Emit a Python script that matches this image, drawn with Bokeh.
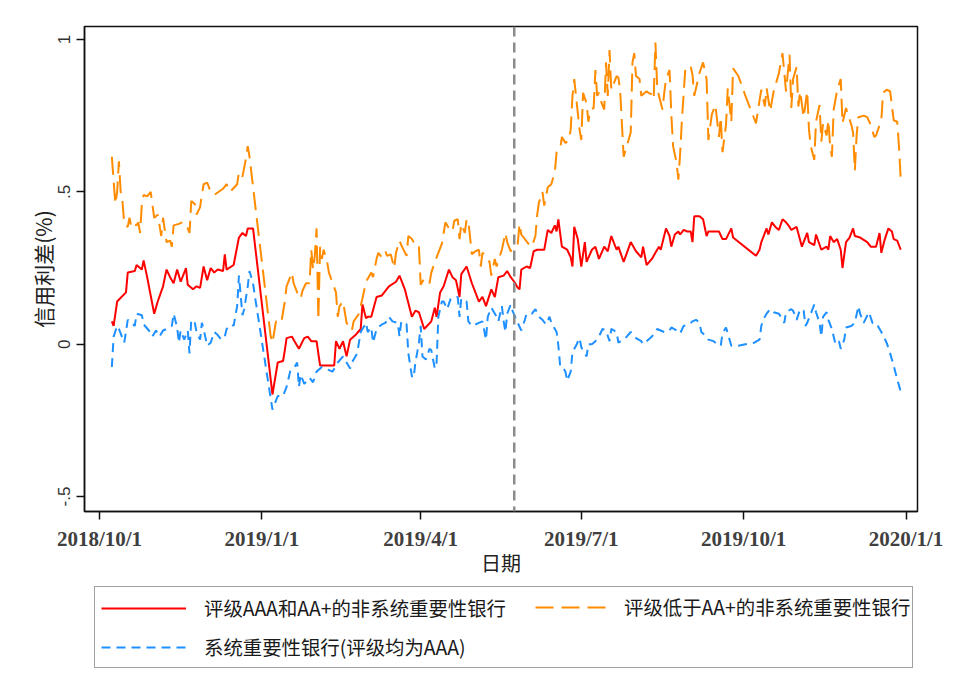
import pandas as pd
from bokeh.plotting import figure
from bokeh.layouts import column
from bokeh.models import Range1d, FixedTicker, Legend, LegendItem, Span
from bokeh.embed import file_html
from bokeh.resources import INLINE

# days counted from 2018-10-01
base_date = "2018-10-01"

red_days = [7, 8, 10, 15, 16, 20, 21, 24, 25, 27, 29, 31, 33, 36, 38, 40, 42, 44, 46, 49,
            50, 53, 55, 57, 59, 61, 63, 65, 67, 70, 71, 72, 76, 79, 81, 83, 84, 87, 98, 101,
            104, 105, 106, 109, 110, 113, 116, 118, 120, 123, 125, 133, 134, 136, 138, 140, 142, 145, 148, 149,
            151, 152, 154, 157, 160, 162, 164, 168, 170, 173, 177, 179, 181, 184, 188, 190, 191, 193, 195, 198,
            200, 202, 204, 205, 208, 211, 215, 217, 219, 222, 224, 226, 229, 231, 233, 235, 237, 238, 239, 242,
            244, 246, 248, 252, 254, 256, 258, 259, 260, 262, 265, 267, 268, 269, 271, 273, 275, 276, 279, 281,
            283, 286, 288, 290, 293, 294, 297, 301, 304, 307, 308, 310, 313, 315, 317, 318, 321, 323, 324, 326,
            328, 329, 331, 333, 335, 336, 337, 340, 342, 344, 345, 349, 351, 353, 355, 358, 359, 372, 374, 375,
            378, 379, 381, 383, 385, 387, 389, 391, 392, 395, 398, 401, 402, 405, 406, 409, 412, 413, 414, 416,
            418, 420, 421, 423, 425, 427, 428, 431, 435, 437, 440, 442, 443, 445, 447, 449, 450, 452, 454]
red_vals = [0.075, 0.06, 0.14, 0.17, 0.235, 0.24, 0.26, 0.245, 0.275, 0.22, 0.16, 0.10, 0.14, 0.19, 0.245, 0.22, 0.20, 0.245, 0.205, 0.25,
            0.195, 0.18, 0.19, 0.185, 0.255, 0.21, 0.25, 0.235, 0.245, 0.24, 0.295, 0.245, 0.26, 0.35, 0.365, 0.355, 0.38, 0.38, -0.165, -0.06,
            -0.055, -0.02, 0.02, 0.025, 0.015, -0.015, 0.02, 0.025, 0.01, 0.01, -0.07, -0.07, 0.01, -0.015, 0.01, -0.04, 0.015, 0.03, 0.05, 0.13,
            0.085, 0.09, 0.09, 0.155, 0.16, 0.175, 0.19, 0.205, 0.225, 0.18, 0.09, 0.11, 0.105, 0.05, 0.075, 0.12, 0.09, 0.17, 0.19, 0.245,
            0.22, 0.21, 0.155, 0.23, 0.255, 0.20, 0.14, 0.155, 0.125, 0.18, 0.155, 0.22, 0.225, 0.24, 0.22, 0.205, 0.185, 0.18, 0.245, 0.255,
            0.25, 0.305, 0.31, 0.31, 0.375, 0.365, 0.39, 0.37, 0.41, 0.32, 0.31, 0.285, 0.255, 0.385, 0.345, 0.255, 0.335, 0.27, 0.31, 0.32,
            0.28, 0.32, 0.305, 0.355, 0.31, 0.32, 0.27, 0.335, 0.305, 0.285, 0.32, 0.26, 0.28, 0.30, 0.32, 0.31, 0.38, 0.355, 0.32, 0.36,
            0.37, 0.36, 0.375, 0.37, 0.37, 0.335, 0.42, 0.42, 0.41, 0.355, 0.37, 0.37, 0.37, 0.345, 0.345, 0.38, 0.35, 0.29, 0.31, 0.335,
            0.38, 0.36, 0.40, 0.385, 0.375, 0.41, 0.40, 0.385, 0.375, 0.385, 0.32, 0.365, 0.335, 0.325, 0.36, 0.31, 0.32, 0.31, 0.355, 0.335,
            0.345, 0.31, 0.25, 0.335, 0.35, 0.38, 0.355, 0.35, 0.335, 0.32, 0.32, 0.365, 0.30, 0.345, 0.38, 0.37, 0.345, 0.34, 0.31]

orange_days = [7, 8, 9, 10, 11, 12, 13, 14, 16, 17, 18, 19, 21, 22, 23, 24, 25, 27, 29, 31,
               33, 35, 36, 38, 40, 41, 42, 45, 47, 49, 51, 52, 54, 55, 57, 58, 59, 61, 63, 65,
               70, 72, 74, 78, 79, 81, 83, 84, 85, 97, 98, 99, 100, 103, 105, 106, 109, 110, 112, 114,
               115, 117, 119, 120, 121, 122, 123, 124, 125, 126, 127, 129, 130, 134, 135, 136, 138, 140, 143, 144,
               147, 149, 151, 152, 154, 155, 157, 158, 160, 162, 163, 165, 167, 168, 170, 171, 174, 175, 177, 178,
               179, 181, 182, 184, 187, 188, 190, 192, 194, 196, 198, 200, 201, 203, 204, 205, 207, 208, 209, 211,
               213, 215, 216, 217, 219, 221, 222, 224, 225, 228, 230, 231, 233, 235, 237, 238, 239, 243, 245, 247,
               248, 249, 251, 252, 254, 256, 258, 259, 261, 262, 264, 266, 267, 268, 269, 271, 272, 273, 274, 276,
               277, 278, 280, 281, 282, 283, 284, 286, 287, 288, 289, 290, 293, 294, 295, 296, 297, 299, 301, 302,
               303, 304, 306, 307, 310, 311, 313, 314, 315, 316, 317, 319, 320, 321, 323, 324, 325, 327, 328, 329,
               330, 332, 335, 336, 337, 338, 340, 342, 344, 345, 347, 349, 351, 352, 353, 355, 356, 358, 359, 362,
               366, 372, 374, 375, 377, 378, 380, 382, 385, 387, 389, 391, 392, 393, 395, 396, 397, 399, 401, 402,
               403, 405, 406, 408, 409, 410, 412, 413, 414, 415, 416, 418, 420, 421, 423, 426, 427, 428, 429, 430,
               433, 435, 437, 439, 440, 443, 444, 446, 448, 450, 452, 453, 454]
orange_vals = [0.615, 0.535, 0.46, 0.50, 0.60, 0.50, 0.47, 0.395, 0.385, 0.415, 0.385, 0.395, 0.39, 0.40, 0.365, 0.46, 0.49, 0.485, 0.50, 0.415,
               0.425, 0.355, 0.415, 0.335, 0.34, 0.32, 0.39, 0.395, 0.40, 0.395, 0.365, 0.47, 0.46, 0.425, 0.45, 0.49, 0.525, 0.53, 0.50, 0.49,
               0.51, 0.525, 0.50, 0.525, 0.565, 0.55, 0.61, 0.65, 0.615, 0.025, 0.005, 0.04, 0.075, 0.07, 0.14, 0.19, 0.235, 0.20, 0.17, 0.15,
               0.175, 0.20, 0.20, 0.31, 0.245, 0.29, 0.38, 0.08, 0.32, 0.28, 0.31, 0.27, 0.235, 0.17, 0.09, 0.125, 0.14, 0.07, 0.045, 0.075,
               0.10, 0.15, 0.205, 0.215, 0.235, 0.22, 0.28, 0.30, 0.285, 0.305, 0.29, 0.295, 0.25, 0.30, 0.34, 0.325, 0.29, 0.355, 0.345, 0.335,
               0.32, 0.32, 0.195, 0.215, 0.20, 0.235, 0.27, 0.30, 0.33, 0.40, 0.38, 0.37, 0.405, 0.41, 0.345, 0.395, 0.365, 0.41, 0.405, 0.295,
               0.305, 0.31, 0.255, 0.30, 0.29, 0.27, 0.225, 0.28, 0.255, 0.31, 0.365, 0.335, 0.305, 0.32, 0.33, 0.395, 0.36, 0.33, 0.32, 0.355,
               0.425, 0.465, 0.50, 0.455, 0.515, 0.525, 0.565, 0.63, 0.64, 0.68, 0.66, 0.67, 0.705, 0.815, 0.87, 0.76, 0.705, 0.67, 0.825, 0.79,
               0.73, 0.77, 0.775, 0.90, 0.815, 0.825, 0.80, 0.77, 0.925, 0.815, 0.965, 0.835, 0.88, 0.875, 0.835, 0.725, 0.615, 0.655, 0.695, 0.925,
               0.955, 0.88, 0.87, 0.815, 0.83, 0.825, 0.82, 0.805, 0.99, 0.845, 0.815, 0.77, 0.825, 0.87, 0.90, 0.755, 0.65, 0.595, 0.54, 0.625,
               0.735, 0.91, 0.91, 0.885, 0.815, 0.84, 0.89, 0.925, 0.87, 0.67, 0.755, 0.785, 0.68, 0.745, 0.63, 0.72, 0.84, 0.73, 0.905, 0.88,
               0.815, 0.725, 0.80, 0.835, 0.78, 0.84, 0.765, 0.83, 0.89, 0.955, 0.83, 0.95, 0.775, 0.87, 0.91, 0.78, 0.83, 0.745, 0.83, 0.705,
               0.65, 0.605, 0.73, 0.785, 0.665, 0.725, 0.685, 0.735, 0.65, 0.615, 0.77, 0.835, 0.87, 0.725, 0.775, 0.72, 0.695, 0.57, 0.685, 0.745,
               0.75, 0.745, 0.72, 0.68, 0.685, 0.735, 0.825, 0.835, 0.83, 0.735, 0.73, 0.65, 0.54]

blue_days = [7, 8, 10, 11, 14, 15, 16, 17, 20, 21, 24, 25, 28, 30, 32, 34, 36, 38, 41, 42,
             44, 45, 46, 48, 50, 51, 52, 54, 55, 57, 58, 59, 61, 63, 65, 67, 69, 71, 72, 75,
             76, 78, 79, 81, 82, 84, 85, 87, 88, 98, 101, 104, 106, 108, 110, 112, 113, 114, 116, 119,
             121, 123, 126, 128, 132, 135, 138, 140, 142, 143, 146, 148, 150, 151, 152, 154, 155, 157, 160, 162,
             164, 166, 169, 170, 171, 174, 175, 177, 178, 179, 181, 182, 183, 185, 187, 188, 190, 191, 192, 194,
             195, 197, 199, 203, 204, 205, 208, 209, 211, 215, 217, 219, 220, 222, 225, 226, 228, 229, 230, 231,
             233, 234, 237, 239, 241, 242, 245, 247, 249, 251, 253, 255, 256, 259, 260, 261, 262, 264, 265, 267,
             268, 270, 272, 273, 276, 277, 279, 281, 283, 285, 287, 289, 290, 293, 294, 298, 301, 304, 307, 308,
             310, 313, 316, 320, 323, 324, 327, 329, 331, 334, 336, 338, 340, 341, 344, 345, 348, 350, 352, 353,
             355, 357, 358, 362, 366, 371, 374, 375, 376, 378, 380, 382, 385, 388, 389, 392, 393, 395, 397, 399,
             400, 401, 405, 406, 408, 409, 410, 412, 413, 415, 417, 419, 420, 422, 423, 426, 428, 430, 431, 433,
             436, 438, 440, 443, 446, 448, 450, 452, 454]
blue_vals = [-0.075, 0.025, 0.06, 0.05, 0.005, 0.04, 0.08, 0.075, 0.06, 0.10, 0.095, 0.065, 0.045, 0.025, 0.045, 0.025, 0.045, 0.05, 0.06, 0.10,
             0.055, 0.005, 0.045, 0.015, 0.045, -0.03, 0.08, 0.07, 0.04, 0.015, 0.07, 0.05, -0.005, 0.005, 0.04, 0.03, 0.015, 0.025, 0.05, 0.065,
             0.06, 0.125, 0.225, 0.095, 0.115, 0.19, 0.24, 0.20, 0.16, -0.215, -0.17, -0.17, -0.14, -0.09, -0.08, -0.06, -0.14, -0.10, -0.13, -0.11,
             -0.125, -0.09, -0.075, -0.08, -0.09, -0.06, -0.04, -0.06, -0.08, -0.06, -0.03, 0.04, 0.06, 0.07, 0.04, 0.055, 0.005, 0.05, 0.065, 0.07,
             0.09, 0.075, 0.07, 0.025, 0.075, 0.065, -0.03, -0.105, -0.11, -0.06, 0.005, 0.06, -0.04, -0.05, -0.015, -0.02, -0.08, -0.06, 0.09, 0.14,
             0.14, 0.115, 0.15, 0.155, 0.09, 0.15, 0.14, 0.075, 0.06, 0.07, 0.075, 0.015, 0.09, 0.12, 0.09, 0.075, 0.125, 0.075, 0.04, 0.10,
             0.13, 0.11, 0.07, 0.045, 0.08, 0.10, 0.10, 0.115, 0.09, 0.08, 0.065, 0.09, 0.07, 0.04, -0.005, -0.07, -0.07, -0.09, -0.12, -0.09,
             -0.025, -0.005, 0.02, -0.01, -0.04, 0.0, 0.0, 0.01, 0.025, 0.05, 0.045, 0.01, 0.05, 0.04, 0.005, 0.02, 0.04, 0.02, 0.01, 0.0,
             0.01, 0.025, 0.05, 0.04, 0.045, 0.055, 0.045, 0.035, 0.06, 0.065, 0.075, 0.08, 0.07, 0.04, 0.025, 0.015, 0.01, 0.0, -0.005, 0.035,
             0.055, 0.015, -0.005, -0.005, 0.0, 0.005, 0.015, 0.06, 0.08, 0.10, 0.115, 0.105, 0.10, 0.07, 0.105, 0.115, 0.11, 0.08, 0.115, 0.11,
             0.06, 0.07, 0.13, 0.105, 0.07, 0.025, 0.09, 0.105, 0.08, 0.05, 0.0, 0.01, -0.015, 0.015, 0.055, 0.06, 0.07, 0.125, 0.10, 0.07,
             0.105, 0.07, 0.07, 0.04, 0.005, -0.03, -0.07, -0.115, -0.155]

event_date = "2019-05-24"
x_tick_dates = ["2018-10-01", "2019-01-01", "2019-04-01", "2019-07-01", "2019-10-01", "2020-01-01"]
x_tick_labels = ["2018/10/1", "2019/1/1", "2019/4/1", "2019/7/1", "2019/10/1", "2020/1/1"]
y_ticks = [-0.5, 0, 0.5, 1]
y_tick_labels = ["-.5", "0", ".5", "1"]

series_names = ["评级AAA和AA+的非系统重要性银行", "评级低于AA+的非系统重要性银行", "系统重要性银行(评级均为AAA)"]
series_colors = ["#ff0000", "#ff8c00", "#1e90ff"]
series_dashes = ["solid", "18 8", "9 6"]

base = pd.Timestamp(base_date)


def to_dates(days):
    return [base + pd.Timedelta(days=d) for d in days]


def ms(s):
    return int(pd.Timestamp(s).value // 10**6)


p = figure(output_backend="svg", toolbar_location=None,
           x_axis_type="datetime",
           x_range=Range1d(pd.Timestamp("2018-09-22 12:00"), pd.Timestamp("2020-01-07 12:00")),
           y_range=Range1d(-0.549, 1.0426),
           min_border_left=84, min_border_top=26, min_border_right=30, min_border_bottom=72,
           frame_width=833, frame_height=485)
p.background_fill_color = "white"
p.border_fill_color = "white"
p.outline_line_color = "#111111"
p.outline_line_width = 1.5
p.xgrid.visible = False
p.ygrid.visible = False

series = [(red_days, red_vals), (orange_days, orange_vals), (blue_days, blue_vals)]
for (d, v), c, dash in zip(series, series_colors, series_dashes):
    p.line(to_dates(d), v, line_color=c, line_width=2, line_dash=dash)

p.add_layout(Span(location=ms(event_date), dimension="height", line_color="#8c8c8c",
                  line_width=2.5, line_dash="10 6"))

xa = p.xaxis[0]
xa.ticker = FixedTicker(ticks=[ms(d) for d in x_tick_dates])
xa.major_label_overrides = {ms(d): lab for d, lab in zip(x_tick_dates, x_tick_labels)}
xa.minor_tick_line_color = None
xa.major_tick_in = 0
xa.major_tick_out = 8
xa.axis_line_color = "#111111"
xa.axis_line_width = 1.5
xa.major_tick_line_color = "#111111"
xa.major_tick_line_width = 1.5
xa.major_label_text_font = "Liberation Serif"
xa.major_label_text_font_style = "bold"
xa.major_label_text_font_size = "21px"
xa.major_label_text_color = "#404040"
xa.major_label_standoff = 7
xa.axis_label = "日期"
xa.axis_label_text_font = "Noto Sans CJK SC"
xa.axis_label_text_font_style = "normal"
xa.axis_label_text_font_size = "20px"
xa.axis_label_text_color = "#222222"
xa.axis_label_standoff = -6

ya = p.yaxis[0]
ya.ticker = FixedTicker(ticks=y_ticks)
ya.major_label_overrides = {(int(t) if float(t).is_integer() else t): lab for t, lab in zip(y_ticks, y_tick_labels)}
ya.minor_tick_line_color = None
ya.major_tick_in = 0
ya.major_tick_out = 8
ya.axis_line_color = "#111111"
ya.axis_line_width = 1.5
ya.major_tick_line_color = "#111111"
ya.major_tick_line_width = 1.5
ya.major_label_orientation = "vertical"
ya.major_label_text_font = "Liberation Sans"
ya.major_label_text_font_size = "17px"
ya.major_label_text_color = "#333333"
ya.major_label_standoff = 6
ya.axis_label = "信用利差(%)"
ya.axis_label_text_font = "Noto Sans CJK SC"
ya.axis_label_text_font_style = "normal"
ya.axis_label_text_font_size = "21px"
ya.axis_label_text_color = "#222222"
ya.axis_label_standoff = -2

# legend panel (separate figure below the chart; key lines carry no visible data)
q = figure(width=947, height=88, output_backend="svg", toolbar_location=None,
           x_range=Range1d(0, 1), y_range=Range1d(0, 1),
           x_axis_location=None, y_axis_location=None, min_border=0)
q.outline_line_color = None
q.xgrid.visible = False
q.ygrid.visible = False
nan = float("nan")
keys = [q.line(x=[nan], y=[nan], line_color=c, line_width=2, line_dash=dash)
        for c, dash in zip(series_colors, series_dashes)]

leg_style = dict(label_text_font="Noto Sans CJK SC", label_text_font_size="19.4px",
                 label_text_color="#1a1a1a", glyph_height=28, label_height=28,
                 padding=6, spacing=10, margin=0)
leg1 = Legend(items=[LegendItem(label=series_names[0], renderers=[keys[0]]),
                     LegendItem(label=series_names[2], renderers=[keys[2]])],
              location=(10, 3), glyph_width=85, label_standoff=18, label_width=702,
              border_line_color="#444444", border_line_width=1.2,
              background_fill_color="white", background_fill_alpha=1.0, **leg_style)
leg2 = Legend(items=[LegendItem(label=series_names[1], renderers=[keys[1]])],
              location=(451, 50), glyph_width=76, label_standoff=13,
              border_line_color=None, background_fill_alpha=0.0, **leg_style)
q.add_layout(leg1)
q.add_layout(leg2)

open("out.html", "w").write(file_html(column(p, q), INLINE))
